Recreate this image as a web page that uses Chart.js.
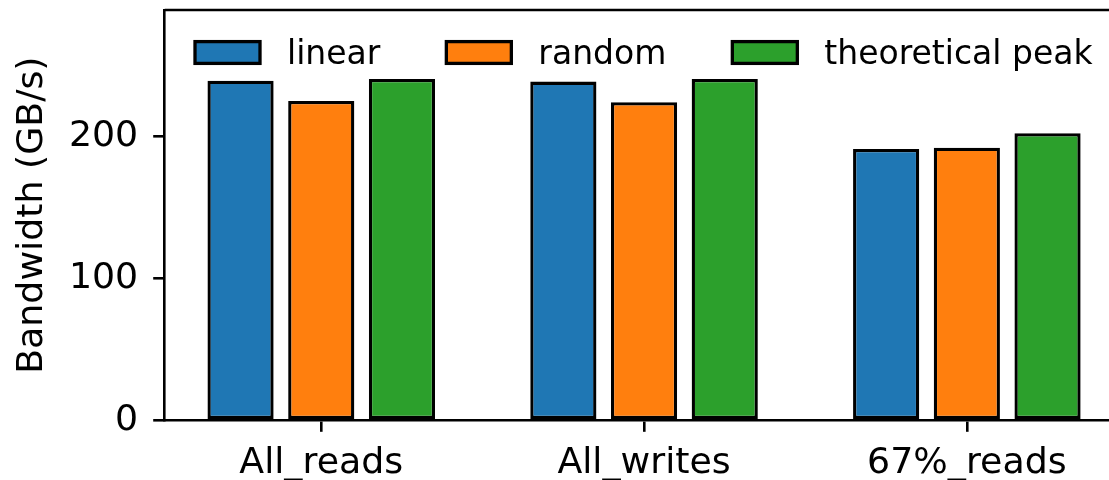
<!DOCTYPE html>
<html>
<head>
<meta charset="utf-8">
<script src="https://cdn.jsdelivr.net/npm/chart.js@4"></script>
<style>
  html, body { margin: 0; padding: 0; background: #fff; overflow: hidden; }
  #wrap { width: 1140px; height: 480px; }
</style>
</head>
<body>
<div id="wrap"><canvas id="c" width="1140" height="480"></canvas></div>
<script>
// Memory bandwidth per access pattern (GB/s)
const categories = ['All_reads', 'All_writes', '67%_reads'];
const seriesNames = ['linear', 'random', 'theoretical peak'];
const linearBW = [239.5, 238.8, 191.3];
const randomBW = [225.2, 224.3, 192.2];
const peakBW = [240.7, 240.7, 202.4];
const yTicks = [0, 100, 200];

const colors = ['#1f77b4', '#ff7f0e', '#2ca02c'];
const FONT = "'DejaVu Sans', sans-serif";
const LW = 3.3;

const toPoints = vals => vals.map((v, i) => ({ x: i, y: v }));

// Frame (top/right spines) and an in-axes legend
const framePlugin = {
  id: 'frame',
  afterDraw(chart) {
    const { ctx, chartArea: a } = chart;
    ctx.save();
    ctx.strokeStyle = '#000';
    ctx.lineWidth = 2.6;
    ctx.beginPath();
    ctx.moveTo(a.left, a.top);
    ctx.lineTo(a.right, a.top);
    ctx.lineTo(a.right, a.bottom);
    ctx.stroke();

    // legend row
    ctx.font = '33px ' + FONT;
    ctx.textBaseline = 'alphabetic';
    let x = a.left + 30.3;
    const boxW = 65, boxH = 21.8, boxTop = 41.6;
    chart.data.datasets.forEach(ds => {
      ctx.fillStyle = ds.backgroundColor;
      ctx.fillRect(x, boxTop, boxW, boxH);
      ctx.lineWidth = LW;
      ctx.strokeStyle = '#000';
      ctx.strokeRect(x, boxTop, boxW, boxH);
      ctx.fillStyle = '#000';
      const tx = x + boxW + 27;
      ctx.fillText(ds.label, tx, 63.5);
      x = tx + ctx.measureText(ds.label).width + 66;
    });
    ctx.restore();
  }
};

const datasets = [linearBW, randomBW, peakBW].map((vals, k) => ({
  label: seriesNames[k],
  data: toPoints(vals),
  backgroundColor: colors[k],
  borderColor: '#000',
  borderWidth: LW,
  borderSkipped: false,
  barPercentage: 0.82,
  categoryPercentage: 0.75
}));

new Chart(document.getElementById('c'), {
  type: 'bar',
  data: { datasets },
  plugins: [framePlugin],
  options: {
    responsive: false,
    devicePixelRatio: 1,
    animation: false,
    layout: { padding: { left: 0, right: 16.6, top: 10, bottom: 0 } },
    plugins: { legend: { display: false }, tooltip: { enabled: false } },
    scales: {
      x: {
        type: 'linear',
        offset: false,
        min: -0.485,
        max: 2.485,
        afterBuildTicks: s => { s.ticks = categories.map((_, i) => ({ value: i })); },
        afterFit: s => {
          s.height = 480 - 420.3;
          s.paddingLeft = 0; s.paddingRight = 0;
        },
        grid: { offset: false, drawOnChartArea: false, tickLength: 11.5, color: '#000', lineWidth: 2.6 },
        border: { color: '#000', width: 2.6 },
        ticks: {
          autoSkip: false,
          maxRotation: 0,
          padding: 10,
          color: '#000',
          font: { family: FONT, size: 36.3 },
          callback: v => categories[v]
        }
      },
      y: {
        min: 0,
        max: 289.3,
        afterBuildTicks: s => { s.ticks = yTicks.map(v => ({ value: v })); },
        afterFit: s => {
          s.width = 164.7;
          s.paddingTop = 0; s.paddingBottom = 0;
        },
        grid: { drawOnChartArea: false, tickLength: 11.5, color: '#000', lineWidth: 2.6 },
        border: { color: '#000', width: 2.6 },
        ticks: { padding: 15, color: '#000', font: { family: FONT, size: 36.3 } },
        title: {
          display: true,
          text: 'Bandwidth (GB/s)',
          color: '#000',
          font: { family: FONT, size: 36.3 },
          padding: { top: 11, bottom: 0 }
        }
      }
    }
  }
});
</script>
</body>
</html>
